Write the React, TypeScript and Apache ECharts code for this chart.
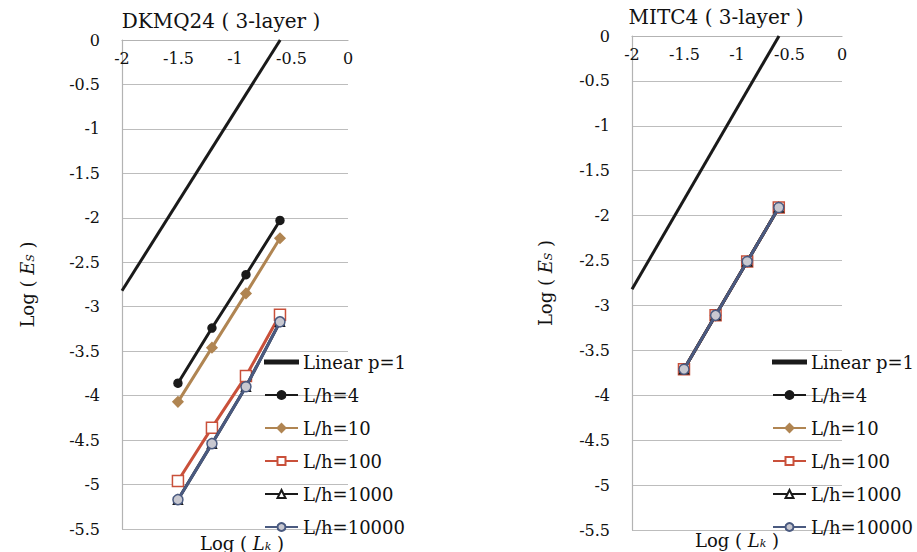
import React, { useEffect, useRef } from "react";
import * as echarts from "echarts";

const xTickLabels = ["-2", "-1.5", "-1", "-0.5", "0"];
const yTickLabels = ["0", "-0.5", "-1", "-1.5", "-2", "-2.5", "-3", "-3.5", "-4", "-4.5", "-5", "-5.5"];

const logLk = [-1.505, -1.204, -0.903, -0.602];
const linearX = [-2, -0.6];
const linearY = [-2.82, 0];

const seriesNames = ["Linear p=1", "L/h=4", "L/h=10", "L/h=100", "L/h=1000", "L/h=10000"];

// DKMQ24 (3-layer)
const dkmqLh4 = [-3.86, -3.24, -2.64, -2.03];
const dkmqLh10 = [-4.07, -3.46, -2.85, -2.23];
const dkmqLh100 = [-4.96, -4.36, -3.78, -3.09];
const dkmqLh1000 = [-5.17, -4.54, -3.9, -3.17];
const dkmqLh10000 = [-5.17, -4.54, -3.9, -3.17];

// MITC4 (3-layer)
const mitcLh4 = [-3.71, -3.11, -2.51, -1.91];
const mitcLh10 = [-3.71, -3.11, -2.51, -1.91];
const mitcLh100 = [-3.71, -3.11, -2.51, -1.91];
const mitcLh1000 = [-3.71, -3.11, -2.51, -1.91];
const mitcLh10000 = [-3.71, -3.11, -2.51, -1.91];

const FONT = "DejaVu Serif";
const INK = "#111111";

const pair = (xs: number[], ys: number[]) => xs.map((x, i) => [x, ys[i]]);

const styles = [
  { color: "#1a1a1a", symbol: "none", size: 0, fill: "#1a1a1a" },
  { color: "#1a1a1a", symbol: "circle", size: 8, fill: "#1a1a1a" },
  { color: "#b08552", symbol: "diamond", size: 10, fill: "#b08552" },
  { color: "#c9503a", symbol: "rect", size: 11, fill: "#ffffff" },
  { color: "#1a1a1a", symbol: "triangle", size: 9, fill: "#ffffff" },
  { color: "#4a5a80", symbol: "circle", size: 10, fill: "#c8c8d0" },
];

function makeSeries(idx: number, sets: number[][]) {
  return sets.map((ys, i) => {
    const st = styles[i];
    const data = i === 0 ? pair(linearX, linearY) : pair(logLk, ys);
    return {
      type: "line",
      name: seriesNames[i],
      xAxisIndex: idx,
      yAxisIndex: idx,
      data,
      symbol: st.symbol,
      symbolSize: st.size,
      showSymbol: i !== 0,
      lineStyle: { color: st.color, width: 3 },
      itemStyle: { color: st.fill, borderColor: st.color, borderWidth: 1.5 },
      z: 2 + i,
      silent: true,
    };
  });
}

const tok = (size: number, extra: any = {}) => ({ fontFamily: FONT, fontSize: size, color: INK, ...extra });

export default function App() {
  const ref = useRef<HTMLDivElement>(null);
  useEffect(() => {
    if (!ref.current) return;
    const chart = echarts.init(ref.current, undefined, { renderer: "svg" });
    const xAxisBase = (gridIndex: number) => ({
      type: "value",
      gridIndex,
      position: "top",
      min: -2,
      max: 0,
      interval: 0.5,
      axisLine: { show: true, onZero: false, lineStyle: { color: "#b3b3b3", width: 1.2 } },
      axisTick: { show: false },
      splitLine: { show: false },
      axisLabel: {
        inside: true,
        margin: 10,
        rich: { a: { fontSize: 16, color: INK, fontFamily: FONT } },
        formatter: (v: number) => `{a|${xTickLabels[Math.round((v + 2) / 0.5)]}}`,
      },
    });
    const yAxisBase = (gridIndex: number, gap: number) => ({
      type: "value",
      gridIndex,
      min: -5.5,
      max: 0,
      interval: 0.5,
      name: "{n|Log ( }{i|E}{s|S}{n| )}",
      nameLocation: "middle",
      nameRotate: 90,
      nameGap: gap,
      nameTextStyle: {
        rich: {
          n: tok(18),
          i: tok(18, { fontStyle: "italic" }),
          s: tok(11, { fontStyle: "italic", padding: [7, 0, 0, 0] }),
        },
      },
      axisLine: { show: true, onZero: false, lineStyle: { color: "#b3b3b3", width: 1.2 } },
      axisTick: { show: false },
      splitLine: { show: true, lineStyle: { color: "#bdbdbd", width: 1.2 } },
      axisLabel: {
        margin: 22,
        rich: { a: { fontSize: 16, color: INK, fontFamily: FONT } },
        formatter: (v: number) => `{a|${yTickLabels[Math.round(-v / 0.5)]}}`,
      },
    });
    const legendData = seriesNames.map((n, i) =>
      i === 0 ? { name: n, icon: "path://M0,0L33,0L33,3L0,3Z", itemStyle: { color: "#1a1a1a" } } : { name: n }
    );
    const legendBase = (left: number) => ({
      orient: "vertical",
      left,
      top: 346,
      itemWidth: 33,
      itemHeight: 10,
      itemGap: 11,
      selectedMode: false,
      data: legendData,
      formatter: (name: string) => `{a|${name}}`,
      textStyle: {
        lineHeight: 22,
        rich: { a: tok(18, { lineHeight: 22 }) },
      },
    });
    const axisTitle = (x: number, y: number) => ({
      type: "text",
      x,
      y,
      style: {
        text: "{n|Log ( }{i|L}{s|k}{n| )}",
        align: "center",
        verticalAlign: "middle",
        rich: {
          n: tok(18, { fill: INK }),
          i: tok(18, { fill: INK, fontStyle: "italic" }),
          s: tok(11, { fill: INK, fontStyle: "italic", padding: [7, 0, 0, 0] }),
        },
      },
    });
    const titleText = (text: string, x: number, y: number) => ({
      type: "text",
      x,
      y,
      style: {
        text: `{t|${text}}`,
        align: "center",
        verticalAlign: "middle",
        rich: { t: tok(20, { fill: INK }) },
      },
    });
    chart.setOption({
      animation: false,
      backgroundColor: "#ffffff",
      grid: [
        { left: 122, top: 40, width: 226, height: 489 },
        { left: 632, top: 36, width: 210, height: 494 },
      ],
      xAxis: [xAxisBase(0), xAxisBase(1)],
      yAxis: [yAxisBase(0, 86), yAxisBase(1, 78)],
      legend: [legendBase(259), legendBase(767)],
      series: [
        ...makeSeries(0, [[], dkmqLh4, dkmqLh10, dkmqLh100, dkmqLh1000, dkmqLh10000]),
        ...makeSeries(1, [[], mitcLh4, mitcLh10, mitcLh100, mitcLh1000, mitcLh10000]),
      ],
      graphic: [
        titleText("DKMQ24 ( 3-layer )", 221, 21),
        titleText("MITC4 ( 3-layer )", 716, 17),
        axisTitle(242, 543),
        axisTitle(737, 540),
      ],
    });
    return () => chart.dispose();
  }, []);
  return (
    <div
      ref={ref}
      style={{ position: "fixed", left: 0, top: 0, width: 917, height: 552, background: "#fff" }}
    />
  );
}
